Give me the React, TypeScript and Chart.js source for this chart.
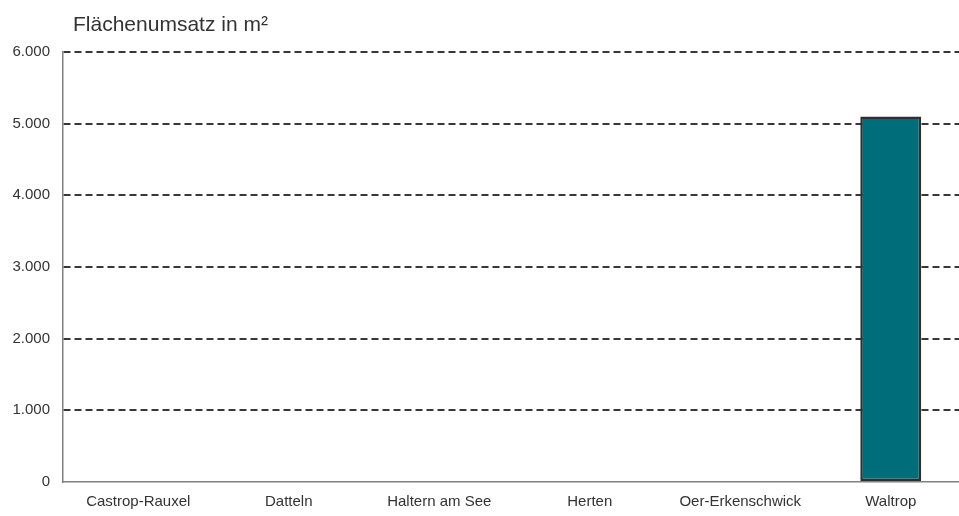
import React, { useEffect, useRef } from "react";
import { Chart, registerables } from "chart.js";

Chart.register(...registerables);

const categories: string[] = ["Castrop-Rauxel", "Datteln", "Haltern am See", "Herten", "Oer-Erkenschwick", "Waltrop"];
const flaechenumsatz: number[] = [0, 0, 0, 0, 0, 5100];
const titleText = "Flächenumsatz in m²";
const yMax = 6000;
const yStep = 1000;

const FONT = "Arial, 'Liberation Sans', sans-serif";

const titlePlugin = {
  id: "customTitle",
  afterDraw(chart: any) {
    const ctx = chart.ctx;
    ctx.save();
    ctx.font = `21px ${FONT}`;
    ctx.fillStyle = "#333333";
    ctx.textBaseline = "middle";
    ctx.textAlign = "left";
    ctx.fillText(titleText, chart.chartArea.left + 10, 25);
    ctx.restore();
  },
};

export default function App() {
  const canvasRef = useRef<HTMLCanvasElement>(null);
  useEffect(() => {
    const chart = new Chart(canvasRef.current!, {
      type: "bar",
      data: {
        labels: categories,
        datasets: [
          {
            data: flaechenumsatz,
            backgroundColor: "#006e7a",
            borderColor: "#2f2f2f",
            borderWidth: 2.5,
            borderSkipped: false,
            barPercentage: 0.405,
            categoryPercentage: 1,
          },
        ],
      },
      options: {
        animation: false,
        responsive: false,
        maintainAspectRatio: false,
        layout: { padding: { top: 52, left: 0, right: 0, bottom: 6 } },
        plugins: { legend: { display: false }, tooltip: { enabled: false }, title: { display: false } },
        scales: {
          x: {
            grid: { display: false, drawTicks: false },
            border: { display: true, color: "#808080", width: 1.5 },
            ticks: { color: "#333333", font: { family: FONT, size: 15 }, padding: 11, maxRotation: 0, autoSkip: false },
          },
          y: {
            min: 0,
            max: yMax,
            afterFit(scale: any) {
              scale.width = 63;
            },
            grid: {
              color: (c: any) => (c.tick && c.tick.value === 0 ? "rgba(0,0,0,0)" : "#383838"),
              lineWidth: 2,
              drawTicks: false,
            },
            border: { display: true, color: "#808080", width: 1.5, dash: [7, 4] },
            ticks: {
              stepSize: yStep,
              color: "#333333",
              font: { family: FONT, size: 15 },
              padding: 13,
              callback: (v: any) => Number(v).toLocaleString("de-DE"),
            },
          },
        },
      },
      plugins: [titlePlugin],
    });
    return () => chart.destroy();
  }, []);
  return (
    <div style={{ position: "fixed", left: 0, top: 0, width: 959, height: 516, overflow: "hidden", background: "#fff" }}>
      <canvas ref={canvasRef} width={966} height={528} style={{ display: "block" }} />
    </div>
  );
}
